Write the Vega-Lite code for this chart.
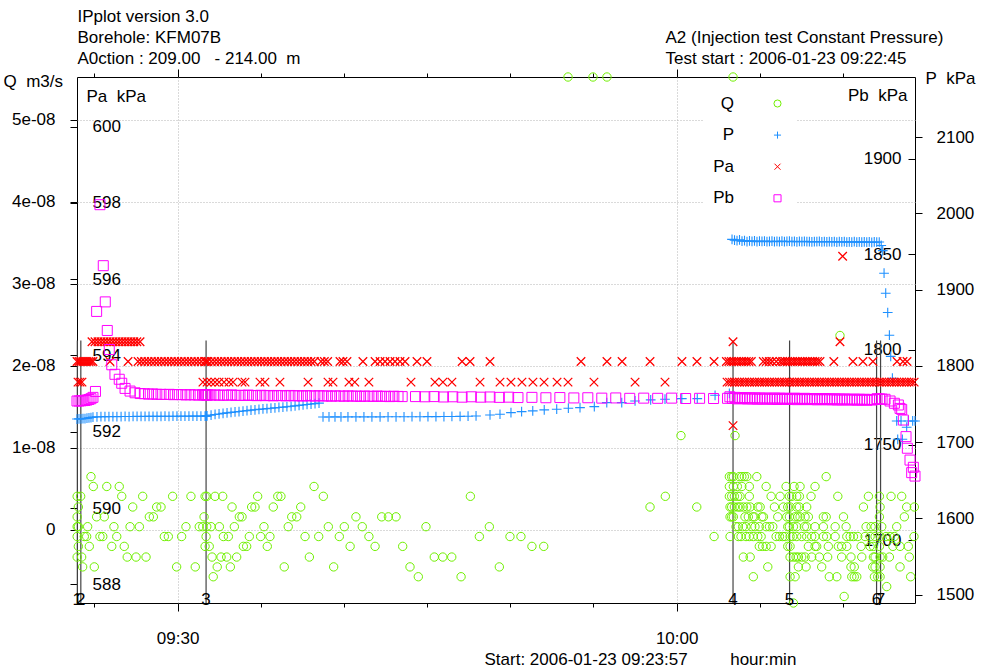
{
"$schema":"https://vega.github.io/schema/vega-lite/v6.json",
"width":838,"height":526,
"autosize":{"type":"none"},
"padding":{"left":77,"top":77,"right":66,"bottom":68},
"background":"#ffffff",
"config":{
 "font":"Liberation Sans",
 "view":{"stroke":"#000","strokeWidth":1},
 "axis":{"domain":false,"labelFont":"Liberation Sans","labelFontSize":17,"labelColor":"#000","tickColor":"#000","tickWidth":1,"titleFont":"Liberation Sans","titleFontSize":17,"titleFontWeight":"normal","titleColor":"#000","grid":false,"gridColor":"#b4b4b4","gridDash":[1,2],"gridWidth":1,"labelOverlap":false,"labelBound":false,"labelFlush":false},
 "legend":{"labelFont":"Liberation Sans"}
},
"datasets":{
"ev":[{"n":"1","t":23.97},{"n":"2","t":24.18},{"n":"3","t":31.71},{"n":"4","t":63.39},{"n":"5","t":66.79},{"n":"6","t":72.02},{"n":"7","t":72.26}],
"q":[
{"t":23.96,"Q":4.1e-9},{"t":23.96,"Q":4e-10},{"t":23.96,"Q":-8e-10},{"t":23.96,"Q":1.6e-9},{"t":23.96,"Q":-3.3e-9},{"t":24.03,"Q":2.8e-9},{"t":24.03,"Q":4e-10},{"t":24.03,"Q":-2e-9},{"t":24.17,"Q":4.1e-9},{"t":24.23,"Q":-3.3e-9},{"t":24.29,"Q":-4.5e-9},{"t":24.39,"Q":-8e-10},{"t":24.53,"Q":-8e-10},{"t":24.59,"Q":4e-10},{"t":24.69,"Q":-2e-9},{"t":24.79,"Q":6.5e-9},{"t":24.93,"Q":5.3e-9},{"t":24.99,"Q":-4.5e-9},{"t":25.13,"Q":1.6e-9},{"t":25.33,"Q":-8e-10},{"t":25.5,"Q":-8e-10},{"t":25.59,"Q":1.6e-9},{"t":25.74,"Q":5.3e-9},{"t":26.04,"Q":-2e-9},{"t":26.17,"Q":4e-10},{"t":26.34,"Q":-8e-10},{"t":26.49,"Q":5.3e-9},{"t":26.64,"Q":4.1e-9},{"t":26.79,"Q":-2e-9},{"t":26.97,"Q":-3.3e-9},{"t":27.14,"Q":4e-10},{"t":27.3,"Q":2.8e-9},{"t":27.5,"Q":-3.3e-9},{"t":27.7,"Q":4e-10},{"t":27.9,"Q":4.1e-9},{"t":28.1,"Q":-3.3e-9},{"t":28.3,"Q":1.6e-9},{"t":28.54,"Q":1.6e-9},{"t":28.74,"Q":2.8e-9},{"t":29.0,"Q":2.8e-9},{"t":29.2,"Q":-8e-10},{"t":29.44,"Q":-8e-10},{"t":29.7,"Q":4.1e-9},{"t":29.94,"Q":-4.5e-9},{"t":30.24,"Q":-8e-10},{"t":30.5,"Q":4e-10},{"t":30.8,"Q":4.1e-9},{"t":31.06,"Q":-4.5e-9},{"t":31.3,"Q":4e-10},{"t":31.51,"Q":4e-10},{"t":31.59,"Q":1.6e-9},{"t":31.65,"Q":4.1e-9},{"t":31.65,"Q":-2e-9},{"t":31.71,"Q":-8e-10},{"t":31.75,"Q":4.1e-9},{"t":31.75,"Q":4e-10},{"t":31.9,"Q":-2e-9},{"t":32.01,"Q":4e-10},{"t":32.07,"Q":-3.3e-9},{"t":32.14,"Q":-5.7e-9},{"t":32.25,"Q":4.1e-9},{"t":32.38,"Q":-4.5e-9},{"t":32.51,"Q":4e-10},{"t":32.61,"Q":-3.3e-9},{"t":32.71,"Q":4.1e-9},{"t":32.75,"Q":-8e-10},{"t":32.95,"Q":-3.3e-9},{"t":33.05,"Q":-8e-10},{"t":33.17,"Q":-4.5e-9},{"t":33.27,"Q":2.8e-9},{"t":33.41,"Q":4e-10},{"t":33.55,"Q":-3.3e-9},{"t":33.71,"Q":1.6e-9},{"t":33.87,"Q":1.6e-9},{"t":33.95,"Q":-2e-9},{"t":34.15,"Q":-2e-9},{"t":34.31,"Q":-8e-10},{"t":34.45,"Q":2.8e-9},{"t":34.65,"Q":2.8e-9},{"t":34.81,"Q":4.1e-9},{"t":34.99,"Q":-8e-10},{"t":35.19,"Q":4e-10},{"t":35.39,"Q":-2e-9},{"t":35.55,"Q":-8e-10},{"t":35.75,"Q":2.8e-9},{"t":36.02,"Q":4.1e-9},{"t":36.21,"Q":4.1e-9},{"t":36.41,"Q":-4.5e-9},{"t":36.65,"Q":4e-10},{"t":36.86,"Q":1.6e-9},{"t":37.16,"Q":1.6e-9},{"t":37.4,"Q":2.8e-9},{"t":37.66,"Q":-8e-10},{"t":37.92,"Q":-3.3e-9},{"t":38.2,"Q":5.3e-9},{"t":38.48,"Q":-8e-10},{"t":38.76,"Q":4.1e-9},{"t":39.06,"Q":4e-10},{"t":39.38,"Q":-4.5e-9},{"t":39.72,"Q":-8e-10},{"t":40.02,"Q":4e-10},{"t":40.37,"Q":-2e-9},{"t":40.72,"Q":1.6e-9},{"t":41.1,"Q":4e-10},{"t":41.5,"Q":-8e-10},{"t":41.87,"Q":-2e-9},{"t":42.27,"Q":1.6e-9},{"t":42.67,"Q":1.6e-9},{"t":43.13,"Q":1.6e-9},{"t":43.53,"Q":-2e-9},{"t":43.97,"Q":-4.5e-9},{"t":44.47,"Q":-5.7e-9},{"t":44.93,"Q":4e-10},{"t":45.43,"Q":-3.3e-9},{"t":45.94,"Q":-3.3e-9},{"t":46.48,"Q":-3.3e-9},{"t":47.04,"Q":-5.7e-9},{"t":47.6,"Q":4.1e-9},{"t":48.14,"Q":-8e-10},{"t":48.74,"Q":4e-10},{"t":49.34,"Q":-4.5e-9},{"t":49.98,"Q":-8e-10},{"t":50.64,"Q":-8e-10},{"t":51.3,"Q":-2e-9},{"t":52.01,"Q":-2e-9},{"t":53.47,"Q":6e-8},{"t":54.97,"Q":6e-8},{"t":55.81,"Q":6e-8},{"t":58.4,"Q":2.8e-9},{"t":59.32,"Q":4.1e-9},{"t":60.26,"Q":1.15e-8},{"t":61.21,"Q":2.8e-9},{"t":62.25,"Q":-8e-10},{"t":63.39,"Q":6e-8},{"t":63.51,"Q":1.15e-8},{"t":69.82,"Q":2.37e-8},
{"t":63.17,"Q":6.5e-9},{"t":63.31,"Q":6.5e-9},{"t":63.41,"Q":6.5e-9},{"t":63.77,"Q":6.5e-9},{"t":63.92,"Q":6.5e-9},{"t":64.07,"Q":6.5e-9},{"t":64.22,"Q":6.5e-9},{"t":64.82,"Q":6.5e-9},{"t":68.99,"Q":6.5e-9},
{"t":63.17,"Q":5.3e-9},{"t":63.41,"Q":5.3e-9},{"t":63.65,"Q":5.3e-9},{"t":63.92,"Q":5.3e-9},{"t":64.37,"Q":5.3e-9},{"t":65.38,"Q":5.3e-9},{"t":66.58,"Q":5.3e-9},{"t":67.06,"Q":5.3e-9},{"t":67.42,"Q":5.3e-9},{"t":68.32,"Q":5.3e-9},
{"t":63.17,"Q":4.1e-9},{"t":63.31,"Q":4.1e-9},{"t":63.47,"Q":4.1e-9},{"t":63.67,"Q":4.1e-9},{"t":63.81,"Q":4.1e-9},{"t":64.37,"Q":4.1e-9},{"t":65.68,"Q":4.1e-9},{"t":66.22,"Q":4.1e-9},{"t":66.78,"Q":4.1e-9},{"t":66.92,"Q":4.1e-9},{"t":67.22,"Q":4.1e-9},{"t":67.38,"Q":4.1e-9},{"t":68.08,"Q":4.1e-9},{"t":69.69,"Q":4.1e-9},{"t":71.53,"Q":4.1e-9},{"t":72.19,"Q":4.1e-9},{"t":72.89,"Q":4.1e-9},{"t":73.53,"Q":4.1e-9},
{"t":63.21,"Q":2.8e-9},{"t":63.31,"Q":2.8e-9},{"t":63.47,"Q":2.8e-9},{"t":63.67,"Q":2.8e-9},{"t":63.81,"Q":2.8e-9},{"t":64.01,"Q":2.8e-9},{"t":64.22,"Q":2.8e-9},{"t":64.42,"Q":2.8e-9},{"t":64.88,"Q":2.8e-9},{"t":65.02,"Q":2.8e-9},{"t":65.88,"Q":2.8e-9},{"t":66.42,"Q":2.8e-9},{"t":66.68,"Q":2.8e-9},{"t":66.82,"Q":2.8e-9},{"t":67.22,"Q":2.8e-9},{"t":67.38,"Q":2.8e-9},{"t":67.82,"Q":2.8e-9},{"t":71.23,"Q":2.8e-9},{"t":72.23,"Q":2.8e-9},{"t":73.83,"Q":2.8e-9},{"t":74.29,"Q":2.8e-9},
{"t":63.21,"Q":1.6e-9},{"t":63.31,"Q":1.6e-9},{"t":63.41,"Q":1.6e-9},{"t":64.11,"Q":1.6e-9},{"t":64.31,"Q":1.6e-9},{"t":64.58,"Q":1.6e-9},{"t":64.68,"Q":1.6e-9},{"t":65.12,"Q":1.6e-9},{"t":65.22,"Q":1.6e-9},{"t":66.08,"Q":1.6e-9},{"t":66.62,"Q":1.6e-9},{"t":66.78,"Q":1.6e-9},{"t":67.12,"Q":1.6e-9},{"t":67.28,"Q":1.6e-9},{"t":67.42,"Q":1.6e-9},{"t":67.72,"Q":1.6e-9},{"t":67.92,"Q":1.6e-9},{"t":68.82,"Q":1.6e-9},{"t":68.99,"Q":1.6e-9},{"t":70.03,"Q":1.6e-9},{"t":72.19,"Q":1.6e-9},{"t":73.69,"Q":1.6e-9},
{"t":63.57,"Q":4e-10},{"t":63.71,"Q":4e-10},{"t":63.97,"Q":4e-10},{"t":64.17,"Q":4e-10},{"t":64.51,"Q":4e-10},{"t":64.71,"Q":4e-10},{"t":64.97,"Q":4e-10},{"t":65.38,"Q":4e-10},{"t":65.58,"Q":4e-10},{"t":65.78,"Q":4e-10},{"t":66.68,"Q":4e-10},{"t":66.78,"Q":4e-10},{"t":67.02,"Q":4e-10},{"t":67.22,"Q":4e-10},{"t":67.68,"Q":4e-10},{"t":67.82,"Q":4e-10},{"t":68.32,"Q":4e-10},{"t":68.82,"Q":4e-10},{"t":69.53,"Q":4e-10},{"t":70.19,"Q":4e-10},{"t":71.39,"Q":4e-10},{"t":71.69,"Q":4e-10},{"t":71.93,"Q":4e-10},{"t":72.33,"Q":4e-10},{"t":73.23,"Q":4e-10},
{"t":63.21,"Q":-8e-10},{"t":63.71,"Q":-8e-10},{"t":63.87,"Q":-8e-10},{"t":64.17,"Q":-8e-10},{"t":64.37,"Q":-8e-10},{"t":64.61,"Q":-8e-10},{"t":64.88,"Q":-8e-10},{"t":65.08,"Q":-8e-10},{"t":65.98,"Q":-8e-10},{"t":66.18,"Q":-8e-10},{"t":66.38,"Q":-8e-10},{"t":66.52,"Q":-8e-10},{"t":66.82,"Q":-8e-10},{"t":66.98,"Q":-8e-10},{"t":67.22,"Q":-8e-10},{"t":67.52,"Q":-8e-10},{"t":67.82,"Q":-8e-10},{"t":68.12,"Q":-8e-10},{"t":68.32,"Q":-8e-10},{"t":68.82,"Q":-8e-10},{"t":69.02,"Q":-8e-10},{"t":69.53,"Q":-8e-10},{"t":70.23,"Q":-8e-10},{"t":70.43,"Q":-8e-10},{"t":70.63,"Q":-8e-10},{"t":70.89,"Q":-8e-10},{"t":71.33,"Q":-8e-10},{"t":71.63,"Q":-8e-10},{"t":71.93,"Q":-8e-10},{"t":72.23,"Q":-8e-10},{"t":72.59,"Q":-8e-10},{"t":72.83,"Q":-8e-10},{"t":73.09,"Q":-8e-10},{"t":74.27,"Q":-8e-10},
{"t":64.97,"Q":-2e-9},{"t":65.17,"Q":-2e-9},{"t":65.38,"Q":-2e-9},{"t":65.68,"Q":-2e-9},{"t":66.68,"Q":-2e-9},{"t":66.82,"Q":-2e-9},{"t":67.92,"Q":-2e-9},{"t":68.32,"Q":-2e-9},{"t":68.42,"Q":-2e-9},{"t":69.12,"Q":-2e-9},{"t":69.72,"Q":-2e-9},{"t":69.92,"Q":-2e-9},{"t":70.23,"Q":-2e-9},{"t":71.09,"Q":-2e-9},{"t":71.63,"Q":-2e-9},{"t":71.83,"Q":-2e-9},{"t":72.19,"Q":-2e-9},{"t":73.0,"Q":-2e-9},{"t":73.43,"Q":-2e-9},{"t":73.93,"Q":-2e-9},
{"t":64.01,"Q":-3.3e-9},{"t":64.42,"Q":-3.3e-9},{"t":66.82,"Q":-3.3e-9},{"t":67.02,"Q":-3.3e-9},{"t":67.18,"Q":-3.3e-9},{"t":67.32,"Q":-3.3e-9},{"t":67.52,"Q":-3.3e-9},{"t":67.72,"Q":-3.3e-9},{"t":68.12,"Q":-3.3e-9},{"t":68.58,"Q":-3.3e-9},{"t":69.08,"Q":-3.3e-9},{"t":69.92,"Q":-3.3e-9},{"t":70.48,"Q":-3.3e-9},{"t":71.13,"Q":-3.3e-9},{"t":71.83,"Q":-3.3e-9},{"t":71.93,"Q":-3.3e-9},{"t":72.23,"Q":-3.3e-9},{"t":72.39,"Q":-3.3e-9},{"t":72.79,"Q":-3.3e-9},{"t":73.99,"Q":-3.3e-9},
{"t":65.48,"Q":-4.5e-9},{"t":67.32,"Q":-4.5e-9},{"t":67.78,"Q":-4.5e-9},{"t":68.72,"Q":-4.5e-9},{"t":70.48,"Q":-4.5e-9},{"t":70.68,"Q":-4.5e-9},{"t":71.79,"Q":-4.5e-9},{"t":71.93,"Q":-4.5e-9},{"t":72.23,"Q":-4.5e-9},{"t":73.43,"Q":-4.5e-9},
{"t":64.61,"Q":-5.7e-9},{"t":66.82,"Q":-5.7e-9},{"t":67.12,"Q":-5.7e-9},{"t":69.18,"Q":-5.7e-9},{"t":69.63,"Q":-5.7e-9},{"t":70.53,"Q":-5.7e-9},{"t":70.68,"Q":-5.7e-9},{"t":70.83,"Q":-5.7e-9},{"t":71.89,"Q":-5.7e-9},{"t":72.09,"Q":-5.7e-9},{"t":72.23,"Q":-5.7e-9},{"t":74.07,"Q":-5.7e-9},
{"t":72.63,"Q":-6.9e-9},{"t":70.07,"Q":-8.1e-9},{"t":67.02,"Q":-9.5e-9}
],
"p":[
{"t":23.95,"P":1730.3},{"t":24.07,"P":1730.5},{"t":24.19,"P":1730.4},{"t":24.31,"P":1730.8},{"t":24.43,"P":1731},{"t":24.55,"P":1731.4},{"t":24.67,"P":1731.8},{"t":24.79,"P":1732.3},
{"t":24.91,"P":1732.8},{"t":25.15,"P":1733.2},{"t":25.39,"P":1733.4},{"t":25.63,"P":1733.5},{"t":25.87,"P":1733.4},{"t":26.11,"P":1733.6},{"t":26.35,"P":1733.5},{"t":26.6,"P":1733.6},{"t":26.84,"P":1733.7},{"t":27.08,"P":1733.6},{"t":27.32,"P":1733.7},{"t":27.56,"P":1733.8},{"t":27.8,"P":1733.7},{"t":28.04,"P":1733.8},{"t":28.28,"P":1733.8},{"t":28.52,"P":1733.9},{"t":28.76,"P":1733.8},{"t":29.0,"P":1733.9},{"t":29.24,"P":1734},{"t":29.48,"P":1733.9},{"t":29.72,"P":1734},{"t":29.96,"P":1734},{"t":30.2,"P":1734.1},{"t":30.44,"P":1734},{"t":30.68,"P":1734.1},{"t":30.92,"P":1734.2},{"t":31.16,"P":1734.1},{"t":31.4,"P":1734.2},{"t":31.65,"P":1734.3},{"t":31.7,"P":1734.2},{"t":31.73,"P":1734.4},
{"t":31.77,"P":1734.5},{"t":32.01,"P":1735.5},{"t":32.25,"P":1736.3},{"t":32.49,"P":1737},{"t":32.73,"P":1737.7},{"t":32.97,"P":1738.4},{"t":33.21,"P":1739},{"t":33.45,"P":1739.6},{"t":33.69,"P":1740.2},{"t":33.93,"P":1740.8},{"t":34.17,"P":1741.4},{"t":34.41,"P":1742},{"t":34.65,"P":1742.5},{"t":34.89,"P":1743},{"t":35.13,"P":1743.5},{"t":35.37,"P":1744},{"t":35.61,"P":1744.5},{"t":35.85,"P":1745},{"t":36.09,"P":1745.5},{"t":36.33,"P":1746},{"t":36.57,"P":1746.5},{"t":36.82,"P":1747},{"t":37.06,"P":1747.6},{"t":37.3,"P":1748.2},{"t":37.54,"P":1748.8},{"t":37.78,"P":1749.4},{"t":38.02,"P":1750},{"t":38.26,"P":1750.6},{"t":38.5,"P":1751.2},
{"t":38.74,"P":1733},{"t":39.1,"P":1733},{"t":39.46,"P":1733.1},{"t":39.82,"P":1733},{"t":40.24,"P":1733.1},{"t":40.72,"P":1733.1},{"t":41.2,"P":1733.2},{"t":41.68,"P":1733.2},{"t":42.17,"P":1733.2},{"t":42.65,"P":1733.3},{"t":43.13,"P":1733.3},{"t":43.61,"P":1733.3},{"t":44.09,"P":1733.4},{"t":44.57,"P":1733.4},{"t":45.05,"P":1733.5},{"t":45.53,"P":1733.5},{"t":46.01,"P":1733.6},{"t":46.49,"P":1733.7},{"t":46.98,"P":1733.8},{"t":47.46,"P":1734},{"t":47.94,"P":1734.4},
{"t":48.78,"P":1735.7},{"t":49.38,"P":1736.6},{"t":50.04,"P":1738.7},{"t":50.68,"P":1740},{"t":51.35,"P":1741},{"t":52.04,"P":1742.3},{"t":52.79,"P":1743.2},{"t":53.49,"P":1744.5},{"t":54.19,"P":1745.3},{"t":55.05,"P":1746.6},{"t":55.8,"P":1751.8},{"t":56.7,"P":1751.8},{"t":57.5,"P":1754},{"t":58.44,"P":1755.4},{"t":59.3,"P":1756.3},{"t":60.31,"P":1757.1},{"t":61.24,"P":1757.1},{"t":62.31,"P":1761.5},{"t":63.17,"P":1764},
{"t":63.33,"P":1966},{"t":63.48,"P":1965},{"t":63.63,"P":1964.2},{"t":63.78,"P":1965.5},{"t":63.93,"P":1963.6},{"t":64.08,"P":1964.4},{"t":64.23,"P":1963.2},{"t":64.38,"P":1964},{"t":64.53,"P":1963.5},{"t":64.68,"P":1963.9},{"t":64.83,"P":1963.1},{"t":64.98,"P":1963.7},{"t":65.13,"P":1963.3},{"t":65.28,"P":1963.8},{"t":65.43,"P":1962.9},{"t":65.58,"P":1963.4},{"t":65.73,"P":1963.6},{"t":65.88,"P":1963},{"t":66.03,"P":1963.5},{"t":66.18,"P":1963.2},{"t":66.33,"P":1963.7},{"t":66.48,"P":1962.9},{"t":66.63,"P":1963.3},{"t":66.78,"P":1963.6},{"t":66.93,"P":1963.1},{"t":67.08,"P":1963.4},{"t":67.23,"P":1962.8},{"t":67.38,"P":1963.3},{"t":67.53,"P":1963},{"t":67.68,"P":1963.5},{"t":67.83,"P":1962.9},{"t":67.98,"P":1963.2},{"t":68.13,"P":1962.7},{"t":68.28,"P":1963.1},{"t":68.43,"P":1962.9},{"t":68.58,"P":1963.3},{"t":68.73,"P":1962.6},{"t":68.88,"P":1963},{"t":69.03,"P":1962.8},{"t":69.18,"P":1963.2},{"t":69.33,"P":1962.7},{"t":69.48,"P":1963},{"t":69.63,"P":1962.5},{"t":69.78,"P":1962.9},{"t":69.93,"P":1962.6},{"t":70.08,"P":1963},{"t":70.23,"P":1962.4},{"t":70.38,"P":1962.8},{"t":70.53,"P":1962.5},{"t":70.68,"P":1962.9},{"t":70.83,"P":1962.3},{"t":70.98,"P":1962.7},{"t":71.13,"P":1962.4},{"t":71.28,"P":1962.8},{"t":71.43,"P":1962.3},{"t":71.58,"P":1962.6},{"t":71.73,"P":1962.2},{"t":71.88,"P":1962.6},{"t":72.03,"P":1962.3},{"t":72.18,"P":1962.5},
{"t":72.3,"P":1958},{"t":72.39,"P":1951.3},{"t":72.47,"P":1921.6},{"t":72.57,"P":1895.4},{"t":72.69,"P":1870},{"t":72.79,"P":1840.3},{"t":72.87,"P":1812.5},{"t":72.97,"P":1783.9},{"t":73.23,"P":1727.8},{"t":73.29,"P":1703.8},{"t":73.49,"P":1727.8},{"t":73.57,"P":1703.8},{"t":73.83,"P":1719.6},{"t":73.93,"P":1727.8},{"t":74.19,"P":1727.8},{"t":74.33,"P":1727.8}
],
"pa":[
{"t":23.95,"Pa":593.84},{"t":24.07,"Pa":593.84},{"t":24.19,"Pa":593.84},{"t":24.31,"Pa":593.84},{"t":24.43,"Pa":593.84},{"t":24.55,"Pa":593.84},{"t":24.67,"Pa":593.84},{"t":24.79,"Pa":593.84},{"t":24.91,"Pa":593.84},
{"t":24.01,"Pa":593.3},{"t":24.13,"Pa":593.3},{"t":24.25,"Pa":593.3},
{"t":24.85,"Pa":594.36},{"t":25.03,"Pa":594.36},{"t":25.21,"Pa":594.36},{"t":25.39,"Pa":594.36},{"t":25.57,"Pa":594.36},{"t":25.75,"Pa":594.36},{"t":25.93,"Pa":594.36},{"t":26.11,"Pa":594.36},{"t":26.29,"Pa":594.36},{"t":26.47,"Pa":594.36},{"t":26.65,"Pa":594.36},{"t":26.83,"Pa":594.36},{"t":27.01,"Pa":594.36},{"t":27.19,"Pa":594.36},{"t":27.37,"Pa":594.36},{"t":27.55,"Pa":594.36},{"t":27.74,"Pa":594.36},
{"t":25.93,"Pa":593.84},{"t":27.02,"Pa":593.84},
{"t":27.62,"Pa":593.84},{"t":27.82,"Pa":593.84},{"t":28.02,"Pa":593.84},{"t":28.22,"Pa":593.84},{"t":28.42,"Pa":593.84},{"t":28.62,"Pa":593.84},{"t":28.82,"Pa":593.84},{"t":29.02,"Pa":593.84},{"t":29.22,"Pa":593.84},{"t":29.42,"Pa":593.84},{"t":29.62,"Pa":593.84},{"t":29.82,"Pa":593.84},{"t":30.02,"Pa":593.84},{"t":30.22,"Pa":593.84},{"t":30.42,"Pa":593.84},{"t":30.62,"Pa":593.84},{"t":30.82,"Pa":593.84},{"t":31.02,"Pa":593.84},{"t":31.22,"Pa":593.84},{"t":31.42,"Pa":593.84},{"t":31.62,"Pa":593.84},{"t":31.72,"Pa":593.84},{"t":31.82,"Pa":593.84},{"t":32.02,"Pa":593.84},{"t":32.22,"Pa":593.84},{"t":32.42,"Pa":593.84},{"t":32.62,"Pa":593.84},{"t":32.82,"Pa":593.84},{"t":33.02,"Pa":593.84},{"t":33.22,"Pa":593.84},{"t":33.42,"Pa":593.84},{"t":33.62,"Pa":593.84},{"t":33.82,"Pa":593.84},{"t":34.02,"Pa":593.84},{"t":34.22,"Pa":593.84},{"t":34.42,"Pa":593.84},{"t":34.62,"Pa":593.84},{"t":34.82,"Pa":593.84},{"t":35.02,"Pa":593.84},{"t":35.22,"Pa":593.84},{"t":35.42,"Pa":593.84},{"t":35.62,"Pa":593.84},{"t":35.82,"Pa":593.84},{"t":36.02,"Pa":593.84},{"t":36.22,"Pa":593.84},{"t":36.42,"Pa":593.84},{"t":36.62,"Pa":593.84},{"t":36.82,"Pa":593.84},{"t":37.02,"Pa":593.84},{"t":37.22,"Pa":593.84},{"t":37.42,"Pa":593.84},{"t":37.62,"Pa":593.84},{"t":37.82,"Pa":593.84},{"t":38.02,"Pa":593.84},{"t":38.22,"Pa":593.84},{"t":38.62,"Pa":593.84},{"t":38.82,"Pa":593.84},{"t":39.02,"Pa":593.84},
{"t":39.76,"Pa":593.84},{"t":39.94,"Pa":593.84},{"t":40.18,"Pa":593.84},{"t":41.14,"Pa":593.84},{"t":41.87,"Pa":593.84},{"t":42.17,"Pa":593.84},{"t":42.47,"Pa":593.84},{"t":42.77,"Pa":593.84},{"t":43.07,"Pa":593.84},{"t":43.37,"Pa":593.84},{"t":43.67,"Pa":593.84},{"t":44.39,"Pa":593.84},{"t":44.99,"Pa":593.84},{"t":47.1,"Pa":593.84},{"t":47.58,"Pa":593.84},{"t":48.78,"Pa":593.84},{"t":54.25,"Pa":593.84},{"t":55.81,"Pa":593.84},{"t":56.72,"Pa":593.84},{"t":58.4,"Pa":593.84},{"t":60.32,"Pa":593.84},{"t":61.22,"Pa":593.84},{"t":62.25,"Pa":593.84},
{"t":31.52,"Pa":593.3},{"t":31.77,"Pa":593.3},{"t":32.01,"Pa":593.3},{"t":32.25,"Pa":593.3},{"t":32.49,"Pa":593.3},{"t":32.79,"Pa":593.3},{"t":33.09,"Pa":593.3},{"t":33.33,"Pa":593.3},{"t":33.87,"Pa":593.3},{"t":34.05,"Pa":593.3},{"t":34.95,"Pa":593.3},{"t":35.25,"Pa":593.3},{"t":36.15,"Pa":593.3},{"t":37.84,"Pa":593.3},{"t":39.04,"Pa":593.3},{"t":39.34,"Pa":593.3},{"t":40.3,"Pa":593.3},{"t":40.65,"Pa":593.3},{"t":41.5,"Pa":593.3},{"t":44.03,"Pa":593.3},{"t":45.47,"Pa":593.3},{"t":45.95,"Pa":593.3},{"t":46.49,"Pa":593.3},{"t":48.18,"Pa":593.3},{"t":49.38,"Pa":593.3},{"t":50.04,"Pa":593.3},{"t":50.7,"Pa":593.3},{"t":51.36,"Pa":593.3},{"t":52.03,"Pa":593.3},{"t":52.81,"Pa":593.3},{"t":53.47,"Pa":593.3},{"t":55.03,"Pa":593.3},{"t":57.5,"Pa":593.3},{"t":59.3,"Pa":593.3},
{"t":63.03,"Pa":593.3},{"t":63.18,"Pa":593.3},{"t":63.33,"Pa":593.3},{"t":63.48,"Pa":593.3},{"t":63.63,"Pa":593.3},{"t":63.78,"Pa":593.3},{"t":63.93,"Pa":593.3},{"t":64.08,"Pa":593.3},{"t":64.23,"Pa":593.3},{"t":64.38,"Pa":593.3},{"t":64.53,"Pa":593.3},{"t":64.68,"Pa":593.3},{"t":64.83,"Pa":593.3},{"t":64.98,"Pa":593.3},{"t":65.13,"Pa":593.3},{"t":65.28,"Pa":593.3},{"t":65.43,"Pa":593.3},{"t":65.58,"Pa":593.3},{"t":65.73,"Pa":593.3},{"t":65.88,"Pa":593.3},{"t":66.03,"Pa":593.3},{"t":66.18,"Pa":593.3},{"t":66.33,"Pa":593.3},{"t":66.48,"Pa":593.3},{"t":66.63,"Pa":593.3},{"t":66.78,"Pa":593.3},{"t":66.93,"Pa":593.3},{"t":67.08,"Pa":593.3},{"t":67.23,"Pa":593.3},{"t":67.38,"Pa":593.3},{"t":67.53,"Pa":593.3},{"t":67.68,"Pa":593.3},{"t":67.83,"Pa":593.3},{"t":67.98,"Pa":593.3},{"t":68.13,"Pa":593.3},{"t":68.28,"Pa":593.3},{"t":68.43,"Pa":593.3},{"t":68.58,"Pa":593.3},{"t":68.73,"Pa":593.3},{"t":68.88,"Pa":593.3},{"t":69.03,"Pa":593.3},{"t":69.18,"Pa":593.3},{"t":69.33,"Pa":593.3},{"t":69.48,"Pa":593.3},{"t":69.63,"Pa":593.3},{"t":69.78,"Pa":593.3},{"t":69.93,"Pa":593.3},{"t":70.08,"Pa":593.3},{"t":70.23,"Pa":593.3},{"t":70.38,"Pa":593.3},{"t":70.53,"Pa":593.3},{"t":70.68,"Pa":593.3},{"t":70.83,"Pa":593.3},{"t":70.98,"Pa":593.3},{"t":71.13,"Pa":593.3},{"t":71.28,"Pa":593.3},{"t":71.43,"Pa":593.3},{"t":71.58,"Pa":593.3},{"t":71.73,"Pa":593.3},{"t":71.88,"Pa":593.3},{"t":72.03,"Pa":593.3},{"t":72.18,"Pa":593.3},{"t":72.33,"Pa":593.3},{"t":72.48,"Pa":593.3},{"t":72.63,"Pa":593.3},{"t":72.78,"Pa":593.3},{"t":72.93,"Pa":593.3},{"t":73.08,"Pa":593.3},{"t":73.23,"Pa":593.3},{"t":73.38,"Pa":593.3},{"t":73.53,"Pa":593.3},{"t":73.68,"Pa":593.3},{"t":73.83,"Pa":593.3},{"t":73.98,"Pa":593.3},{"t":74.13,"Pa":593.3},{"t":74.28,"Pa":593.3},
{"t":62.99,"Pa":593.84},{"t":63.14,"Pa":593.84},{"t":63.29,"Pa":593.84},{"t":63.44,"Pa":593.84},{"t":63.59,"Pa":593.84},{"t":63.74,"Pa":593.84},{"t":63.89,"Pa":593.84},{"t":64.04,"Pa":593.84},{"t":64.19,"Pa":593.84},{"t":64.34,"Pa":593.84},{"t":64.49,"Pa":593.84},{"t":65.21,"Pa":593.84},{"t":65.39,"Pa":593.84},{"t":65.57,"Pa":593.84},{"t":65.75,"Pa":593.84},{"t":65.99,"Pa":593.84},{"t":66.22,"Pa":593.84},{"t":66.37,"Pa":593.84},{"t":66.52,"Pa":593.84},{"t":66.67,"Pa":593.84},{"t":66.82,"Pa":593.84},{"t":66.97,"Pa":593.84},{"t":67.12,"Pa":593.84},{"t":67.27,"Pa":593.84},{"t":67.42,"Pa":593.84},{"t":67.57,"Pa":593.84},{"t":67.72,"Pa":593.84},{"t":67.87,"Pa":593.84},{"t":68.02,"Pa":593.84},{"t":68.17,"Pa":593.84},{"t":68.32,"Pa":593.84},{"t":68.47,"Pa":593.84},{"t":68.62,"Pa":593.84},{"t":69.45,"Pa":593.84},{"t":70.6,"Pa":593.84},{"t":71.2,"Pa":593.84},{"t":71.8,"Pa":593.84},{"t":73.25,"Pa":593.84},{"t":73.61,"Pa":593.84},{"t":73.85,"Pa":593.84},
{"t":63.39,"Pa":594.36},{"t":69.82,"Pa":594.36},{"t":63.39,"Pa":592.16},{"t":69.98,"Pa":596.6}
],
"pb":[
{"t":23.95,"Pb":1773},{"t":24.07,"Pb":1773},{"t":24.19,"Pb":1773.1},{"t":24.31,"Pb":1773.2},{"t":24.43,"Pb":1773.3},{"t":24.55,"Pb":1773.5},{"t":24.67,"Pb":1773.8},{"t":24.79,"Pb":1774.2},{"t":24.91,"Pb":1774.9},{"t":25.06,"Pb":1778},{"t":25.13,"Pb":1820},{"t":25.33,"Pb":1876},{"t":25.53,"Pb":1844},{"t":25.65,"Pb":1825},{"t":25.77,"Pb":1810},{"t":25.89,"Pb":1800},{"t":26.04,"Pb":1792},{"t":26.23,"Pb":1787},{"t":26.49,"Pb":1784.4},{"t":26.64,"Pb":1782.3},{"t":26.84,"Pb":1779.6},{"t":27.14,"Pb":1778.2},{"t":27.44,"Pb":1777.3},
{"t":27.75,"Pb":1776.9},{"t":28.0,"Pb":1776.8},{"t":28.25,"Pb":1776.6},{"t":28.5,"Pb":1776.7},{"t":28.75,"Pb":1776.5},{"t":29.0,"Pb":1776.5},{"t":29.25,"Pb":1776.4},{"t":29.5,"Pb":1776.5},{"t":29.75,"Pb":1776.3},{"t":30.0,"Pb":1776.4},{"t":30.25,"Pb":1776.3},{"t":30.5,"Pb":1776.2},{"t":30.75,"Pb":1776.3},{"t":31.0,"Pb":1776.2},{"t":31.25,"Pb":1776.1},{"t":31.5,"Pb":1776.3},{"t":31.6,"Pb":1776.1},{"t":31.68,"Pb":1776.4},{"t":31.75,"Pb":1776.0},{"t":31.82,"Pb":1776.2},{"t":32.0,"Pb":1776.1},{"t":32.25,"Pb":1776.2},{"t":32.5,"Pb":1776.0},{"t":32.75,"Pb":1776.1},{"t":33.0,"Pb":1776.0},{"t":33.25,"Pb":1776.2},{"t":33.5,"Pb":1775.9},{"t":33.75,"Pb":1776.0},{"t":34.0,"Pb":1775.9},{"t":34.25,"Pb":1776.1},{"t":34.5,"Pb":1775.9},{"t":34.75,"Pb":1775.8},{"t":35.0,"Pb":1776.0},{"t":35.25,"Pb":1775.8},{"t":35.5,"Pb":1775.9},{"t":35.75,"Pb":1775.7},{"t":36.0,"Pb":1775.9},{"t":36.25,"Pb":1775.8},{"t":36.5,"Pb":1775.7},{"t":36.75,"Pb":1775.9},{"t":37.0,"Pb":1775.7},{"t":37.25,"Pb":1775.8},{"t":37.5,"Pb":1775.6},{"t":37.75,"Pb":1775.8},{"t":38.0,"Pb":1775.7},{"t":38.25,"Pb":1775.6},{"t":38.5,"Pb":1775.8},{"t":38.75,"Pb":1775.6},{"t":39.0,"Pb":1775.7},{"t":39.25,"Pb":1775.5},{"t":39.5,"Pb":1775.7},{"t":39.75,"Pb":1775.6},{"t":40.0,"Pb":1775.5},{"t":40.25,"Pb":1775.7},{"t":40.5,"Pb":1775.5},{"t":40.75,"Pb":1775.6},{"t":41.0,"Pb":1775.4},{"t":41.25,"Pb":1775.6},{"t":41.5,"Pb":1775.5},{"t":41.75,"Pb":1775.4},{"t":42.0,"Pb":1775.6},{"t":42.25,"Pb":1775.4},{"t":42.5,"Pb":1775.5},{"t":42.75,"Pb":1775.3},{"t":43.0,"Pb":1775.5},{"t":43.25,"Pb":1775.4},{"t":43.5,"Pb":1775.3},
{"t":44.3,"Pb":1775.3},{"t":44.86,"Pb":1775.2},{"t":45.42,"Pb":1775.3},{"t":45.98,"Pb":1775.1},{"t":46.54,"Pb":1775.2},{"t":47.1,"Pb":1775.0},{"t":47.66,"Pb":1775.2},{"t":48.22,"Pb":1775.0},{"t":48.78,"Pb":1775.1},{"t":49.34,"Pb":1774.9},{"t":49.9,"Pb":1775.0},{"t":50.46,"Pb":1774.8},
{"t":51.3,"Pb":1774.9},{"t":52.14,"Pb":1774.7},{"t":52.98,"Pb":1774.8},{"t":53.82,"Pb":1774.6},{"t":54.66,"Pb":1774.7},{"t":55.5,"Pb":1774.5},{"t":56.34,"Pb":1774.6},{"t":57.18,"Pb":1774.4},{"t":58.02,"Pb":1774.5},{"t":58.86,"Pb":1774.4},{"t":59.7,"Pb":1774.5},{"t":60.54,"Pb":1774.3},{"t":61.38,"Pb":1774.4},{"t":62.22,"Pb":1774.3},{"t":63.06,"Pb":1774.4},
{"t":63.2,"Pb":1775.2},{"t":63.35,"Pb":1774.4},{"t":63.5,"Pb":1774.9},{"t":63.65,"Pb":1774.1},{"t":63.8,"Pb":1774.7},{"t":63.95,"Pb":1774.3},{"t":64.1,"Pb":1774.8},{"t":64.25,"Pb":1774.0},{"t":64.4,"Pb":1774.6},{"t":64.55,"Pb":1774.2},{"t":64.7,"Pb":1774.7},{"t":64.85,"Pb":1773.9},{"t":65.0,"Pb":1774.5},{"t":65.15,"Pb":1774.1},{"t":65.3,"Pb":1774.6},{"t":65.45,"Pb":1773.9},{"t":65.6,"Pb":1774.4},{"t":65.75,"Pb":1774.0},{"t":65.9,"Pb":1774.6},{"t":66.05,"Pb":1773.8},{"t":66.2,"Pb":1774.4},{"t":66.35,"Pb":1774.1},{"t":66.5,"Pb":1774.5},{"t":66.65,"Pb":1773.8},{"t":66.8,"Pb":1774.3},{"t":66.95,"Pb":1774.0},{"t":67.1,"Pb":1774.5},{"t":67.25,"Pb":1773.7},{"t":67.4,"Pb":1774.3},{"t":67.55,"Pb":1773.9},{"t":67.7,"Pb":1774.4},{"t":67.85,"Pb":1773.7},{"t":68.0,"Pb":1774.2},{"t":68.15,"Pb":1773.9},{"t":68.3,"Pb":1774.3},{"t":68.45,"Pb":1773.6},{"t":68.6,"Pb":1774.1},{"t":68.75,"Pb":1773.8},{"t":68.9,"Pb":1774.3},{"t":69.05,"Pb":1773.6},{"t":69.2,"Pb":1774.1},{"t":69.35,"Pb":1773.7},{"t":69.5,"Pb":1774.2},{"t":69.65,"Pb":1773.5},{"t":69.8,"Pb":1774.0},{"t":69.95,"Pb":1773.6},{"t":70.1,"Pb":1774.1},{"t":70.25,"Pb":1773.5},{"t":70.4,"Pb":1773.9},{"t":70.55,"Pb":1773.6},{"t":70.7,"Pb":1774.0},{"t":70.85,"Pb":1773.4},{"t":71.0,"Pb":1773.9},{"t":71.15,"Pb":1773.5},{"t":71.3,"Pb":1773.9},{"t":71.45,"Pb":1773.4},{"t":71.6,"Pb":1773.8},{"t":71.75,"Pb":1773.5},{"t":71.9,"Pb":1773.8},
{"t":72.05,"Pb":1774.2},{"t":72.2,"Pb":1774.1},{"t":72.35,"Pb":1774},{"t":72.53,"Pb":1773.9},{"t":72.83,"Pb":1773},{"t":73.09,"Pb":1771.8},{"t":73.33,"Pb":1770.9},{"t":73.43,"Pb":1769.1},{"t":73.53,"Pb":1768.6},{"t":73.63,"Pb":1763},{"t":73.79,"Pb":1754.3},{"t":73.87,"Pb":1748.2},{"t":74.03,"Pb":1742},{"t":74.13,"Pb":1735.4},{"t":74.23,"Pb":1738.2},{"t":74.33,"Pb":1733.6}
]
},
"layer":[
{
 "data":{"name":"ev"},
 "mark":{"type":"rule","color":"#444444","strokeWidth":1.2},
 "encoding":{
  "x":{"field":"t","type":"quantitative","scale":{"domain":[23.95,74.33],"nice":false,"zero":false},
   "axis":{"orient":"top","ticks":false,"labels":false,"grid":false,"title":["IPplot version 3.0","Borehole: KFM07B","A0ction : 209.00\u00a0\u00a0\u00a0- 214.00\u00a0\u00a0m"],"titleX":0,"titleY":-56,"titleAlign":"left","titleBaseline":"alphabetic","titleLineHeight":21,"titleAnchor":"start","titleAngle":0}},
  "y":{"datum":2.31e-8,"type":"quantitative","scale":{"domain":[-8.9e-9,5.52e-8],"nice":false,"zero":false},"axis":null},
  "y2":{"datum":-8.9e-9}
 }
},
{
 "data":{"name":"q"},
 "mark":{"type":"point","filled":false,"opacity":1,"strokeWidth":1,"size":70},
 "encoding":{
  "x":{"field":"t","type":"quantitative","scale":{"domain":[23.95,74.33],"nice":false,"zero":false},
   "axis":{"orient":"bottom","values":[30,60],"labelExpr":"datum.value === 30 ? '09:30' : '10:00'","tickSize":8,"labelPadding":19,"grid":true,
    "title":"Start: 2006-01-23 09:23:57\u00a0\u00a0\u00a0\u00a0\u00a0\u00a0\u00a0\u00a0\u00a0hour:min","titleX":407,"titleY":61,"titleAlign":"left","titleBaseline":"alphabetic","titleAnchor":"start"}},
  "y":{"field":"Q","type":"quantitative","scale":{"domain":[-8.9e-9,5.52e-8],"nice":false,"zero":false,"clamp":true},
   "axis":{"orient":"left","values":[0,1e-8,2e-8,3e-8,4e-8,5e-8],"labelExpr":"datum.value === 0 ? '0' : format(datum.value * 1e8, '.0f') + 'e-08'","tickSize":7,"labelPadding":15,"grid":true,
    "title":"Q\u00a0\u00a0m3/s","titleAngle":0,"titleAlign":"left","titleBaseline":"alphabetic","titleX":-74,"titleY":9,"titleAnchor":"start"}},
  "color":{"datum":"Q","scale":{"domain":["Q","P","Pa","Pb"],"range":["#70f000","#1e90ff","#ff0000","#ff00ff"]},
   "legend":{"orient":"none","legendX":626,"legendY":6,"title":null,"direction":"vertical","fillColor":"#ffffff","padding":12,"labelFontSize":17,"labelColor":"#000","labelAlign":"right","labelOffset":-52,"symbolOffset":54,"rowPadding":13.6,"symbolSize":50,"symbolStrokeWidth":1}},
  "shape":{"datum":"Q","scale":{"domain":["Q","P","Pa","Pb"],"range":["circle","M-1,0L1,0M0,-1L0,1","M-0.85,-0.85L0.85,0.85M0.85,-0.85L-0.85,0.85","square"]}}
 }
},
{
 "data":{"name":"p"},
 "mark":{"type":"point","filled":false,"opacity":1,"strokeWidth":1.1,"size":95},
 "encoding":{
  "x":{"field":"t","type":"quantitative","scale":{"domain":[23.95,74.33],"nice":false,"zero":false},
   "axis":{"orient":"bottom","values":[25,35,40,45,50,55,65,70],"tickSize":4,"labels":false,"grid":false,"title":null}},
  "y":{"field":"P","type":"quantitative","scale":{"domain":[1489,2179],"nice":false,"zero":false},
   "axis":{"orient":"right","values":[1500,1600,1700,1800,1900,2000,2100],"format":"d","tickSize":7,"labelPadding":14,"grid":false,
    "title":"P\u00a0\u00a0kPa","titleAngle":0,"titleAlign":"left","titleBaseline":"alphabetic","titleX":10,"titleY":6,"titleAnchor":"start"}},
  "color":{"datum":"P"},
  "shape":{"datum":"P"}
 }
},
{
 "data":{"name":"pa"},
 "mark":{"type":"point","filled":false,"opacity":1,"strokeWidth":1.3,"size":100},
 "encoding":{
  "x":{"field":"t","type":"quantitative","scale":{"domain":[23.95,74.33],"nice":false,"zero":false},
   "axis":{"orient":"top","values":[30,60],"tickSize":8,"labels":false,"grid":false,
    "title":["A2 (Injection test Constant Pressure)","Test start : 2006-01-23 09:22:45"],"titleX":588,"titleY":-35,"titleAlign":"left","titleBaseline":"alphabetic","titleLineHeight":21,"titleAnchor":"start","titleAngle":0}},
  "y":{"field":"Pa","type":"quantitative","scale":{"domain":[587.51,601.3],"nice":false,"zero":false},
   "axis":{"orient":"left","values":[588,590,592,594,596,598,600],"tickSize":7,"labelPadding":-22,"labelAlign":"left","grid":false,
    "title":"Pa\u00a0\u00a0kPa","titleAngle":0,"titleAlign":"left","titleBaseline":"alphabetic","titleX":9,"titleY":24,"titleAnchor":"start"}},
  "color":{"datum":"Pa"},
  "shape":{"datum":"Pa"}
 }
},
{
 "data":{"name":"pb"},
 "mark":{"type":"point","filled":false,"opacity":1,"strokeWidth":1,"size":100},
 "encoding":{
  "x":{"field":"t","type":"quantitative","scale":{"domain":[23.95,74.33],"nice":false,"zero":false},
   "axis":{"orient":"top","values":[25,35,40,45,50,55,65,70],"tickSize":4,"labels":false,"grid":false,"title":null}},
  "y":{"field":"Pb","type":"quantitative","scale":{"domain":[1667,1943],"nice":false,"zero":false},
   "axis":{"orient":"right","values":[1700,1750,1800,1850,1900],"format":"d","tickSize":-7,"labelPadding":-7,"labelAlign":"right","grid":false,
    "title":"Pb\u00a0\u00a0kPa","titleAngle":0,"titleAlign":"right","titleBaseline":"alphabetic","titleX":-8,"titleY":23,"titleAnchor":"end"}},
  "color":{"datum":"Pb"},
  "shape":{"datum":"Pb"}
 }
},
{
 "data":{"name":"ev"},
 "mark":{"type":"text","fontSize":17,"baseline":"middle","align":"center","dy":-3,"color":"#000","font":"Liberation Sans"},
 "encoding":{
  "x":{"field":"t","type":"quantitative","scale":{"domain":[23.95,74.33],"nice":false,"zero":false},"axis":null},
  "y":{"datum":-8.9e-9,"type":"quantitative","scale":{"domain":[-8.9e-9,5.52e-8],"nice":false,"zero":false},"axis":null},
  "text":{"field":"n"}
 }
}
],
"resolve":{"scale":{"y":"independent"},"axis":{"x":"independent","y":"independent"}}
}
